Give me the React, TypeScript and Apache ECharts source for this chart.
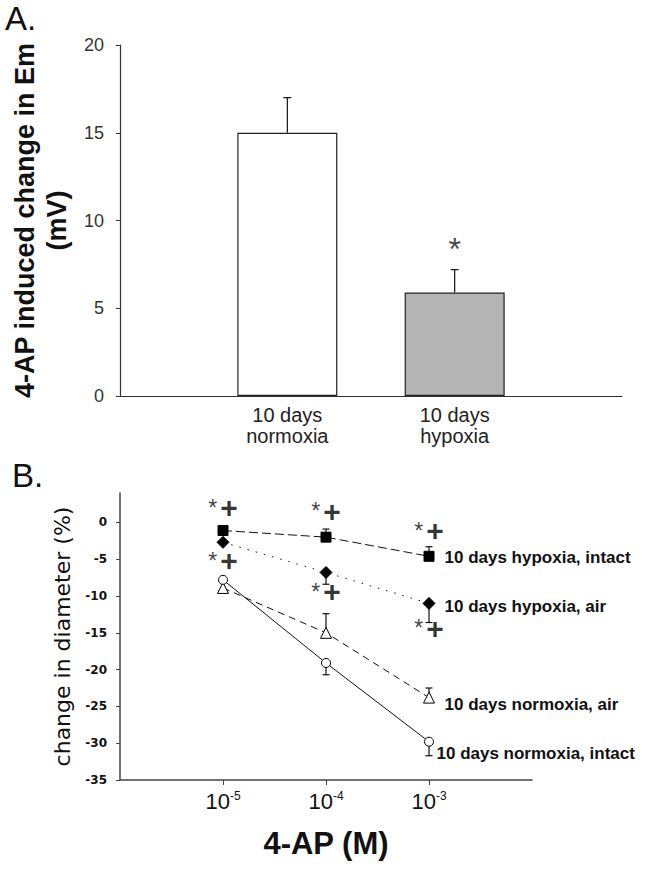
import React, { useEffect, useRef } from 'react';
import * as echarts from 'echarts';

// ---------- Panel A data ----------
const barCategories = ['10 days\nnormoxia', '10 days\nhypoxia'];
const barValues = [15, 5.9];
const barErrors = [2.0, 1.3];
const barColors = ['#ffffff', '#b4b4b4'];
const yTicksA = [0, 5, 10, 15, 20];
const starPositionsA = [[2, 8.4]];

// ---------- Panel B data ----------
const concentrationExponents = [-5, -4, -3];
const xTickExponents = [-5, -4, -3];
const yTicksB = [0, -5, -10, -15, -20, -25, -30, -35];

const hypoxiaIntact = [-1.1, -2.0, -4.6];
const hypoxiaIntactErr = [0, 1.1, 1.3];
const hypoxiaAir = [-2.7, -6.8, -11.0];
const hypoxiaAirErr = [0, -1.6, -2.6];
const normoxiaAir = [-8.9, -15.0, -23.8];
const normoxiaAirErr = [0, 2.6, 1.3];
const normoxiaIntact = [-7.8, -19.1, -29.8];
const normoxiaIntactErr = [0, -1.6, -1.9];

const seriesNames = [
  '10 days hypoxia, intact',
  '10 days hypoxia, air',
  '10 days normoxia, air',
  '10 days normoxia, intact',
];

const significanceMarksB = [
  [-5, 2.0], [-5, -5.2],
  [-4, 1.5], [-4, -9.4],
  [-3, -1.1], [-3, -14.4],
];

const FONT = 'Liberation Sans, Arial, sans-serif';

const errRender = (capHalf: number) => (params: any, api: any) => {
  const x = api.value(0);
  const y = api.value(1);
  const e = api.value(2);
  const p0 = api.coord([x, y]);
  const p1 = api.coord([x, y + e]);
  const st = { stroke: '#111', lineWidth: 1.2 };
  return {
    type: 'group',
    children: [
      { type: 'line', shape: { x1: p0[0], y1: p0[1], x2: p1[0], y2: p1[1] }, style: st },
      { type: 'line', shape: { x1: p1[0] - capHalf, y1: p1[1], x2: p1[0] + capHalf, y2: p1[1] }, style: st },
    ],
  };
};

export default function App() {
  const ref = useRef<HTMLDivElement>(null);
  useEffect(() => {
    if (!ref.current) return;
    const chart = echarts.init(ref.current, undefined, { renderer: 'svg' });

    const lineSpecs = [
      { vals: hypoxiaIntact, errs: hypoxiaIntactErr, symbol: 'rect', size: 10, fill: '#000', dash: [9, 4] as any, dist: 10, off: [0, 1] },
      { vals: hypoxiaAir, errs: hypoxiaAirErr, symbol: 'diamond', size: 12, fill: '#000', dash: [1.5, 7] as any, dist: 9, off: [0, 3] },
      { vals: normoxiaAir, errs: normoxiaAirErr, symbol: 'triangle', size: 11, fill: '#fff', dash: [7, 5] as any, dist: 9.5, off: [0, 7] },
      { vals: normoxiaIntact, errs: normoxiaIntactErr, symbol: 'circle', size: 9, fill: '#fff', dash: 'solid' as any, dist: 2.5, off: [0, 12] },
    ];

    const errDataB: number[][] = [];
    lineSpecs.forEach((s) => {
      s.vals.forEach((v, i) => {
        if (s.errs[i] !== 0) errDataB.push([concentrationExponents[i], v, s.errs[i]]);
      });
    });

    const lineSeries = lineSpecs.map((s, si) => ({
      type: 'line',
      name: seriesNames[si],
      xAxisIndex: 1,
      yAxisIndex: 1,
      symbol: s.symbol,
      symbolSize: s.size,
      z: 3,
      itemStyle: { color: s.fill, borderColor: '#000', borderWidth: 1 },
      lineStyle: { color: '#111', width: 1, type: s.dash },
      data: s.vals.map((v, i) => {
        const item: any = { value: [concentrationExponents[i], v] };
        if (i === s.vals.length - 1) {
          item.label = {
            show: true,
            position: 'right',
            distance: s.dist,
            offset: s.off,
            formatter: seriesNames[si],
            fontFamily: FONT,
            fontWeight: 'bold',
            fontSize: 17,
            color: '#111',
          };
        }
        return item;
      }),
    }));

    const option: any = {
      animation: false,
      backgroundColor: '#fff',
      textStyle: { fontFamily: FONT },
      grid: [
        { left: 120, top: 45, width: 502, height: 351 },
        { left: 120, top: 493, width: 412, height: 287 },
      ],
      xAxis: [
        {
          type: 'category',
          gridIndex: 0,
          boundaryGap: false,
          data: ['', ...barCategories, ''],
          axisLine: { onZero: false, lineStyle: { color: '#333', width: 1.2 } },
          axisTick: { show: false },
          axisLabel: { interval: 0, fontSize: 20, lineHeight: 21, color: '#222', margin: 8 },
          splitLine: { show: false },
        },
        {
          type: 'value',
          gridIndex: 1,
          min: -6,
          max: -2,
          interval: 1,
          name: '4-AP (M)',
          nameLocation: 'middle',
          nameGap: 48,
          nameTextStyle: { fontSize: 31, fontWeight: 'bold', color: '#111', fontFamily: FONT },
          axisLine: { onZero: false, lineStyle: { color: '#444', width: 1.5 } },
          axisTick: { show: true, length: 5, customValues: xTickExponents, lineStyle: { color: '#444' } },
          axisLabel: {
            customValues: xTickExponents,
            margin: 10,
            formatter: (v: number) => `{b|10}{s|${v}}`,
            rich: {
              b: { fontSize: 22, color: '#111', fontFamily: FONT },
              s: { fontSize: 12, color: '#111', fontFamily: FONT, verticalAlign: 'top', padding: [0, 0, 10, 0] },
            },
          },
          splitLine: { show: false },
        },
      ],
      yAxis: [
        {
          type: 'value',
          gridIndex: 0,
          min: 0,
          max: 20,
          interval: 5,
          name: '4-AP induced change in Em\n(mV)',
          nameLocation: 'middle',
          nameGap: 47,
          nameTextStyle: { fontSize: 27, fontWeight: 'bold', color: '#111', lineHeight: 32, fontFamily: FONT },
          axisLine: { show: true, onZero: false, lineStyle: { color: '#333', width: 1.2 } },
          axisTick: { show: true, length: 4, customValues: yTicksA, lineStyle: { color: '#333' } },
          axisLabel: { customValues: yTicksA, fontSize: 18, color: '#333', margin: 16 },
          splitLine: { show: false },
        },
        {
          type: 'value',
          gridIndex: 1,
          min: -35,
          max: 4,
          interval: 5,
          name: 'change in diameter (%)',
          nameLocation: 'middle',
          nameGap: 47,
          nameTextStyle: { fontSize: 22, color: '#111', fontFamily: 'DejaVu Sans, sans-serif' },
          axisLine: { show: true, onZero: false, lineStyle: { color: '#444', width: 1.5 } },
          axisTick: { show: true, length: 4, customValues: yTicksB, lineStyle: { color: '#444' } },
          axisLabel: {
            customValues: yTicksB,
            fontSize: 12,
            fontWeight: 'bold',
            color: '#111',
            margin: 13,
            fontFamily: 'DejaVu Sans, sans-serif',
          },
          splitLine: { show: false },
        },
      ],
      graphic: [
        { type: 'text', left: 5, top: 2, style: { text: 'A.', fontSize: 33, fontFamily: FONT, fill: '#111' } },
        { type: 'text', left: 12, top: 459, style: { text: 'B.', fontSize: 33, fontFamily: FONT, fill: '#111' } },
      ],
      series: [
        {
          type: 'bar',
          xAxisIndex: 0,
          yAxisIndex: 0,
          barWidth: 100,
          z: 2,
          data: ['-', ...barValues.map((v, i) => ({
            value: v,
            itemStyle: { color: barColors[i], borderColor: '#222', borderWidth: 1.2 },
          })), '-'],
        },
        {
          type: 'custom',
          xAxisIndex: 0,
          yAxisIndex: 0,
          z: 5,
          renderItem: errRender(4),
          data: barValues.map((v, i) => [i + 1, v, barErrors[i]]),
        },
        {
          type: 'scatter',
          xAxisIndex: 0,
          yAxisIndex: 0,
          symbolSize: 1,
          itemStyle: { color: 'rgba(0,0,0,0)' },
          label: { show: true, position: 'inside', formatter: '*', fontSize: 32, color: '#111', fontFamily: FONT },
          data: starPositionsA,
        },
        {
          type: 'custom',
          xAxisIndex: 1,
          yAxisIndex: 1,
          z: 1,
          renderItem: errRender(3.5),
          data: errDataB,
        },
        ...lineSeries,
        {
          type: 'scatter',
          xAxisIndex: 1,
          yAxisIndex: 1,
          symbolSize: 1,
          z: 4,
          itemStyle: { color: 'rgba(0,0,0,0)' },
          label: {
            show: true,
            position: 'inside',
            formatter: '{s|*}{p|+}',
            rich: {
              s: { fontSize: 23, color: '#111', fontFamily: FONT, padding: [0, 3, 0, 0] },
              p: { fontSize: 30, fontWeight: 'bold', color: '#000', fontFamily: FONT },
            },
          },
          data: significanceMarksB,
        },
      ],
    };

    chart.setOption(option);
    return () => chart.dispose();
  }, []);

  return (
    <div
      ref={ref}
      style={{ position: 'absolute', left: 0, top: 0, width: 660, height: 875, background: '#fff' }}
    />
  );
}
